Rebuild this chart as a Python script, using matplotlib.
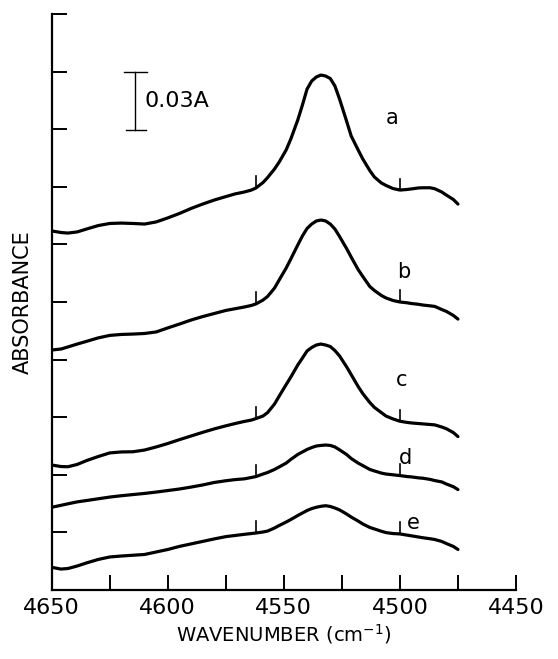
import numpy as np
import matplotlib.pyplot as plt
from matplotlib.ticker import MultipleLocator, NullFormatter

# wavenumber grid (cm^-1) shared by all spectra
wavenumber = [4650, 4646, 4643, 4639, 4635, 4630, 4625, 4620, 4615, 4610,
              4605, 4600, 4595, 4590, 4585, 4580, 4575, 4571, 4567, 4564,
              4562, 4559, 4557, 4554, 4552, 4549, 4547, 4544, 4542, 4540,
              4538, 4536, 4534, 4532, 4530, 4528, 4526, 4523, 4521, 4518,
              4516, 4513, 4511, 4508, 4506, 4503, 4500, 4497, 4495, 4492,
              4490, 4487, 4485, 4482, 4480, 4477, 4475]

# absorbance (vertically offset as in the original)
abs_a = [0.1870, 0.1862, 0.1859, 0.1865, 0.1880, 0.1898, 0.1909, 0.1911, 0.1909, 0.1906,
         0.1917, 0.1938, 0.1961, 0.1987, 0.2010, 0.2031, 0.2049, 0.2063, 0.2073, 0.2083,
         0.2094, 0.2122, 0.2148, 0.2193, 0.2229, 0.2292, 0.2349, 0.2448, 0.2526, 0.2609,
         0.2651, 0.2672, 0.2682, 0.2677, 0.2664, 0.2625, 0.2557, 0.2443, 0.2365, 0.2292,
         0.2245, 0.2185, 0.2151, 0.2120, 0.2107, 0.2091, 0.2083, 0.2086, 0.2089, 0.2094,
         0.2095, 0.2095, 0.2090, 0.2073, 0.2057, 0.2034, 0.2010]
abs_b = [0.1250, 0.1255, 0.1266, 0.1281, 0.1295, 0.1313, 0.1326, 0.1331, 0.1333, 0.1336,
         0.1344, 0.1365, 0.1385, 0.1406, 0.1424, 0.1440, 0.1456, 0.1465, 0.1474, 0.1482,
         0.1490, 0.1510, 0.1529, 0.1573, 0.1615, 0.1677, 0.1724, 0.1797, 0.1844, 0.1883,
         0.1906, 0.1922, 0.1927, 0.1922, 0.1906, 0.1880, 0.1841, 0.1779, 0.1734, 0.1669,
         0.1633, 0.1581, 0.1560, 0.1534, 0.1521, 0.1508, 0.1500, 0.1496, 0.1492, 0.1488,
         0.1484, 0.1480, 0.1477, 0.1461, 0.1451, 0.1430, 0.1411]
abs_c = [0.0651, 0.0643, 0.0642, 0.0654, 0.0674, 0.0695, 0.0714, 0.0719, 0.0720, 0.0729,
         0.0745, 0.0763, 0.0783, 0.0802, 0.0821, 0.0839, 0.0855, 0.0867, 0.0878, 0.0885,
         0.0893, 0.0906, 0.0924, 0.0969, 0.1010, 0.1070, 0.1109, 0.1172, 0.1208, 0.1245,
         0.1263, 0.1276, 0.1281, 0.1276, 0.1268, 0.1247, 0.1219, 0.1163, 0.1122, 0.1060,
         0.1023, 0.0977, 0.0951, 0.0924, 0.0906, 0.0891, 0.0879, 0.0873, 0.0870, 0.0867,
         0.0865, 0.0862, 0.0860, 0.0849, 0.0840, 0.0820, 0.0799]
abs_d = [0.0431, 0.0441, 0.0449, 0.0459, 0.0466, 0.0475, 0.0484, 0.0491, 0.0497, 0.0503,
         0.0510, 0.0518, 0.0526, 0.0536, 0.0547, 0.0560, 0.0569, 0.0575, 0.0579, 0.0586,
         0.0591, 0.0604, 0.0612, 0.0628, 0.0641, 0.0661, 0.0680, 0.0706, 0.0719, 0.0732,
         0.0742, 0.0750, 0.0753, 0.0755, 0.0753, 0.0745, 0.0730, 0.0706, 0.0685, 0.0661,
         0.0648, 0.0628, 0.0620, 0.0609, 0.0604, 0.0600, 0.0596, 0.0591, 0.0589, 0.0584,
         0.0582, 0.0576, 0.0570, 0.0563, 0.0552, 0.0538, 0.0523]
abs_e = [0.0118, 0.0109, 0.0112, 0.0125, 0.0141, 0.0159, 0.0172, 0.0177, 0.0181, 0.0185,
         0.0198, 0.0211, 0.0227, 0.0240, 0.0253, 0.0266, 0.0278, 0.0284, 0.0290, 0.0294,
         0.0297, 0.0302, 0.0307, 0.0323, 0.0336, 0.0354, 0.0367, 0.0388, 0.0401, 0.0414,
         0.0424, 0.0431, 0.0436, 0.0439, 0.0435, 0.0427, 0.0417, 0.0396, 0.0380, 0.0359,
         0.0344, 0.0326, 0.0318, 0.0306, 0.0299, 0.0294, 0.0292, 0.0286, 0.0282, 0.0276,
         0.0272, 0.0267, 0.0263, 0.0253, 0.0242, 0.0227, 0.0211]

curve_labels = ["a", "b", "c", "d", "e"]
label_x = [4503.5, 4498.2, 4499.2, 4497.8, 4494.4]
label_y = [0.2458, 0.1656, 0.1094, 0.0688, 0.0349]

# small marks drawn on each trace
mark_wn = [4562, 4500]

fig = plt.figure(figsize=(5.58, 6.59), dpi=100)
ax = fig.add_axes([51.7 / 558, 69 / 659, 464.3 / 558, 576 / 659])

spectra = [abs_a, abs_b, abs_c, abs_d, abs_e]
for spec, lab, lx, ly in zip(spectra, curve_labels, label_x, label_y):
    ax.plot(wavenumber, spec, color="black", lw=2.3, solid_joinstyle="round",
            solid_capstyle="round")
    for wn in mark_wn:
        y0 = spec[wavenumber.index(wn)]
        ax.plot([wn, wn], [y0, y0 + 0.006], color="black", lw=1.2)
    ax.text(lx, ly, lab, fontsize=15, ha="center", va="center")

# 0.03 A scale bar
ax.plot([4614, 4614], [0.2396, 0.2696], color="black", lw=1.0)
ax.plot([4619, 4609], [0.2696, 0.2696], color="black", lw=1.0)
ax.plot([4618, 4609.5], [0.2396, 0.2396], color="black", lw=1.0)
ax.text(4610, 0.2546, "0.03A", fontsize=16, ha="left", va="center")

ax.set_xlim(4650, 4450)
ax.set_ylim(0, 0.30)
ax.spines["top"].set_visible(False)
ax.spines["right"].set_visible(False)
ax.spines["left"].set_linewidth(1.6)
ax.spines["bottom"].set_linewidth(1.6)

ax.xaxis.set_major_locator(MultipleLocator(50))
ax.xaxis.set_minor_locator(MultipleLocator(25))
ax.yaxis.set_major_locator(MultipleLocator(0.03))
ax.yaxis.set_major_formatter(NullFormatter())
ax.tick_params(axis="both", which="both", direction="in", length=11, width=1.4)
ax.tick_params(axis="x", which="major", labelsize=16, pad=6)

ax.set_xlabel("WAVENUMBER (cm$^{-1}$)", fontsize=14, labelpad=3)
ax.set_ylabel("ABSORBANCE", fontsize=15, labelpad=10)

fig.savefig("out.png", dpi=100)
